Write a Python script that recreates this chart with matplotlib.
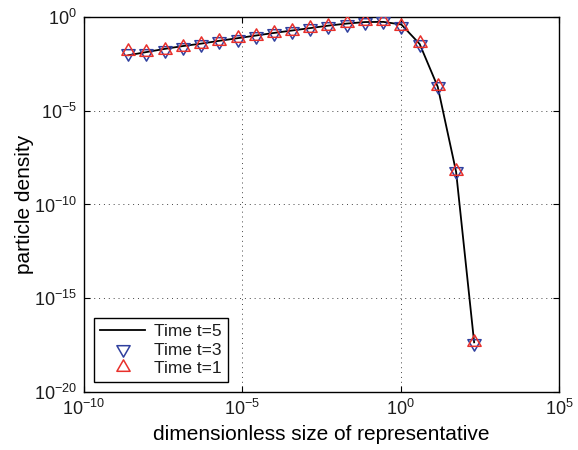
import numpy as np
import matplotlib
matplotlib.use("Agg")
import matplotlib.pyplot as plt
from matplotlib.path import Path

plt.rcParams["font.family"] = ["Liberation Sans", "DejaVu Sans"]
plt.rcParams["mathtext.fontset"] = "custom"
plt.rcParams["mathtext.rm"] = "Liberation Sans"
plt.rcParams["mathtext.it"] = "Liberation Sans:italic"
plt.rcParams["mathtext.bf"] = "Liberation Sans:bold"
plt.rcParams["text.color"] = "#1c1c1c"

# representative size (dimensionless)
size = [2.51e-9, 9.33e-9, 3.55e-8, 1.32e-7, 5.01e-7, 1.86e-6, 7.08e-6, 2.63e-5,
        1.0e-4, 3.72e-4, 1.41e-3, 5.25e-3, 2.0e-2, 7.41e-2, 0.282, 1.05,
        3.98, 14.8, 56.2, 209.0]

# log10 of particle density at each time
log_density_t5 = [-2.04, -1.87, -1.70, -1.55, -1.42, -1.27, -1.13, -0.99, -0.85, -0.72,
                  -0.59, -0.46, -0.35, -0.27, -0.26, -0.40, -1.44, -3.72, -8.25, -17.35]
log_density_t3 = [-1.93, -1.92, -1.78, -1.61, -1.46, -1.28, -1.16, -1.00, -0.86, -0.74,
                  -0.60, -0.47, -0.35, -0.25, -0.24, -0.47, -1.42, -3.68, -8.21, -17.37]
log_density_t1 = [-1.83, -1.86, -1.74, -1.58, -1.44, -1.26, -1.14, -0.99, -0.85, -0.73,
                  -0.59, -0.46, -0.34, -0.24, -0.23, -0.47, -1.40, -3.66, -8.19, -17.35]

density_t5 = 10.0 ** np.array(log_density_t5)
density_t3 = 10.0 ** np.array(log_density_t3)
density_t1 = 10.0 ** np.array(log_density_t1)

# equilateral triangles centred on their centroid
tri_up = Path([(0, 1), (-0.866, -0.5), (0.866, -0.5), (0, 1)],
              [Path.MOVETO, Path.LINETO, Path.LINETO, Path.CLOSEPOLY])
tri_down = Path([(0, -1), (-0.866, 0.5), (0.866, 0.5), (0, -1)],
                [Path.MOVETO, Path.LINETO, Path.LINETO, Path.CLOSEPOLY])

fig = plt.figure(figsize=(5.78, 4.5), dpi=100)
ax = fig.add_axes([84 / 578, 1 - 392 / 450, (559 - 84) / 578, (392 - 17) / 450])

blue = "#2f3f9e"
red = "#e8302b"

ax.plot(size, density_t5, color="black", lw=1.3, label="Time t=5", zorder=3)
ax.plot(size, density_t3, ls="none", marker=tri_down, markersize=11,
        markerfacecolor="none", markeredgecolor=blue, markeredgewidth=1.1,
        label="Time t=3", zorder=4)
ax.plot(size, density_t1, ls="none", marker=tri_up, markersize=11,
        markerfacecolor="none", markeredgecolor=red, markeredgewidth=1.1,
        label="Time t=1", zorder=5)

ax.set_xscale("log")
ax.set_yscale("log")
ax.set_xlim(1e-10, 1e5)
ax.set_ylim(1e-20, 1e0)

xticks = [1e-10, 1e-5, 1e0, 1e5]
yticks = [1e-20, 1e-15, 1e-10, 1e-5, 1e0]
xtick_labels = [r"$10^{-10}$", r"$10^{-5}$", r"$10^{0}$", r"$10^{5}$"]
ytick_labels = [r"$10^{-20}$", r"$10^{-15}$", r"$10^{-10}$", r"$10^{-5}$", r"$10^{0}$"]
ax.set_xticks(xticks)
ax.set_xticklabels(xtick_labels)
ax.set_yticks(yticks)
ax.set_yticklabels(ytick_labels)
ax.minorticks_off()

ax.tick_params(which="major", direction="in", length=4, width=0.8,
               top=True, right=True, labelsize=13, color="black",
               labelcolor="#1c1c1c", pad=5)
for sp in ax.spines.values():
    sp.set_linewidth(1.0)
    sp.set_color("black")

ax.grid(True, which="major", linestyle=(0, (1, 4)), color="#444444", linewidth=0.7)

ax.set_xlabel("dimensionless size of representative", fontsize=15, labelpad=4)
ax.set_ylabel("particle density", fontsize=15, labelpad=0)

leg = ax.legend(loc="lower left", bbox_to_anchor=(0.01, 0.012), fontsize=12.5,
                fancybox=False, framealpha=1, edgecolor="black",
                handlelength=2.6, handletextpad=0.5, labelspacing=0.2,
                borderpad=0.35, borderaxespad=0.3)
leg.get_frame().set_linewidth(1.0)

fig.savefig("out.png", dpi=100)
